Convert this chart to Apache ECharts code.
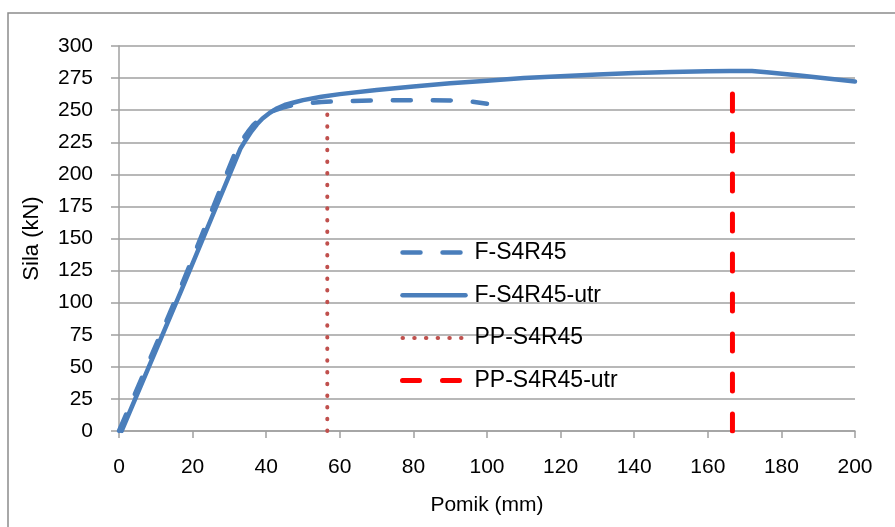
<!DOCTYPE html>
<html>
<head>
<meta charset="utf-8">
<script src="https://cdn.jsdelivr.net/npm/echarts@6/dist/echarts.min.js"></script>
<style>html,body{margin:0;padding:0;background:#fff}#c{width:895px;height:527px}</style>
</head>
<body>
<div id="c"></div>
<script>
// Data (x = Pomik mm, y = Sila kN)
const seriesNames = ['F-S4R45', 'F-S4R45-utr', 'PP-S4R45', 'PP-S4R45-utr'];
const fS4R45 = [[0,0],[16.5,110],[32,220],[33.5,227],[35,233],[36.5,238.5],[38,242.5],[40,246.5],[42,249.5],[44.5,252],[47,253.8],[50,255],[55,256.3],[60,257],[70,257.6],[80,257.8],[90,257.6],[95,257],[100,255]];
const fS4R45utr = [[0.7,0],[17,110],[33,220],[34.5,227],[36,233.5],[37.5,239],[39,243.5],[41,248],[43,251.5],[45,254],[47.5,256],[50,257.8],[55,260.5],[60,262.5],[70,265.8],[80,268.5],[90,271],[100,273],[110,275],[120,276.5],[130,277.8],[140,279],[150,279.8],[160,280.4],[166,280.6],[172,280.6],[176,279.5],[185,277],[200,272.3]];
const ppS4R45 = [[56.6,0],[56.6,250]];
const ppS4R45utr = [[166.7,0],[166.7,267]];
const xTicks = {min:0, max:200, interval:20};
const yTicks = {min:0, max:300, interval:25};

const FONT = 'Liberation Sans';
const chart = echarts.init(document.getElementById('c'), null, {renderer:'canvas'});
const gridColor = '#a0a0a0';
chart.setOption({
  animation:false,
  backgroundColor:'#fff',
  textStyle:{fontFamily:FONT},
  graphic:[{type:'rect', shape:{x:8,y:13,width:900,height:540}, style:{fill:'none', stroke:'#8c8c8c', lineWidth:1.5}, silent:true, z:-1}],
  grid:{left:119, right:40, top:46, bottom:96},
  xAxis:{type:'value', min:xTicks.min, max:xTicks.max, interval:xTicks.interval,
    name:'Pomik (mm)', nameLocation:'middle', nameGap:64,
    nameTextStyle:{fontSize:21, color:'#000', fontFamily:FONT},
    axisLine:{show:true, lineStyle:{color:gridColor, width:1.5}},
    axisTick:{show:true, length:7, lineStyle:{color:gridColor, width:1.5}},
    axisLabel:{fontSize:21, color:'#000', margin:26, fontFamily:FONT},
    splitLine:{show:false}},
  yAxis:{type:'value', min:yTicks.min, max:yTicks.max, interval:yTicks.interval,
    name:'Sila (kN)', nameLocation:'middle', nameGap:76, nameRotate:90,
    nameTextStyle:{fontSize:22, color:'#000', fontFamily:FONT},
    axisLine:{show:true, lineStyle:{color:gridColor, width:1.5}},
    axisTick:{show:true, length:8, lineStyle:{color:gridColor, width:1.5}},
    axisLabel:{fontSize:21, color:'#000', margin:26, fontFamily:FONT},
    splitLine:{show:true, lineStyle:{color:gridColor, width:1.5}}},
  legend:{orient:'vertical', left:395, top:236, itemWidth:63, itemHeight:22, itemGap:19.7,
    data:seriesNames,
    itemStyle:{opacity:0},
    lineStyle:{width:'inherit'},
    textStyle:{fontSize:23, color:'#000', fontFamily:FONT, lineHeight:22, padding:[0,0,0,4]}},
  series:[
    {name:seriesNames[0], type:'line', data:fS4R45, symbol:'none', smooth:false,
      lineStyle:{color:'#4a7ebb', width:4.5, type:[18,22], cap:'round', join:'round'}, itemStyle:{color:'#4a7ebb'}, z:3},
    {name:seriesNames[1], type:'line', data:fS4R45utr, symbol:'none', smooth:false,
      lineStyle:{color:'#4a7ebb', width:4.5, type:'solid', cap:'round', join:'round'}, itemStyle:{color:'#4a7ebb'}, z:2},
    {name:seriesNames[2], type:'line', data:ppS4R45, symbol:'none',
      lineStyle:{color:'#c0504d', width:4, type:[0.5,11.2], cap:'round'}, itemStyle:{color:'#c0504d'}, z:4},
    {name:seriesNames[3], type:'line', data:ppS4R45utr, symbol:'none',
      lineStyle:{color:'#ff0000', width:5, type:[17,23], cap:'round'}, itemStyle:{color:'#ff0000'}, z:4}
  ]
});
</script>
</body>
</html>
